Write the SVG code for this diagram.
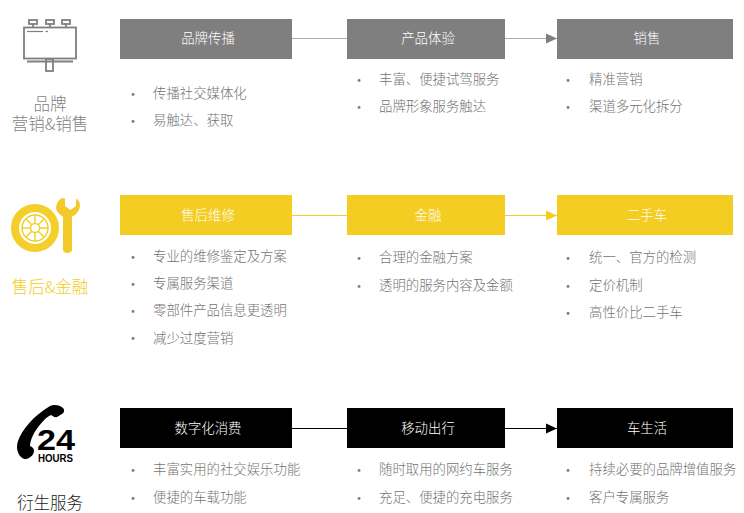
<svg xmlns="http://www.w3.org/2000/svg" width="744" height="513" viewBox="0 0 744 513">
<style>
text{font-family:"Noto Sans CJK SC","Liberation Sans",sans-serif}
.b{font-size:13.400px;text-anchor:middle;fill:#fff;font-weight:300}
.l{font-size:13.400px;fill:#737373;font-weight:300}
.d{font-size:13px;fill:#7a7a7a;text-anchor:middle}
.h{font-size:16.500px;text-anchor:middle;font-weight:300}
.ln{stroke-width:1.200;fill:none}
</style>
<defs>
<marker id="ag" markerUnits="userSpaceOnUse" markerWidth="11" markerHeight="12" refX="11" refY="6" orient="auto"><path d="M0 1L11 6L0 11Z" fill="#7f7f7f"/></marker>
<marker id="ay" markerUnits="userSpaceOnUse" markerWidth="11" markerHeight="12" refX="11" refY="6" orient="auto"><path d="M0 1L11 6L0 11Z" fill="#f4cd22"/></marker>
<marker id="ak" markerUnits="userSpaceOnUse" markerWidth="11" markerHeight="12" refX="11" refY="6" orient="auto"><path d="M0 1L11 6L0 11Z" fill="#000"/></marker>
</defs>
<rect width="744" height="513" fill="#fff"/>
<g id="connectors">
<path class="ln" stroke="#aaa" d="M292 38.500H347"/>
<path class="ln" stroke="#aaa" d="M505 38.500H557" marker-end="url(#ag)"/>
<path class="ln" stroke="#f4cd22" d="M292 215.500H347"/>
<path class="ln" stroke="#f4cd22" d="M505 215.500H557" marker-end="url(#ay)"/>
<path class="ln" stroke="#000" d="M292 428.500H347"/>
<path class="ln" stroke="#000" d="M505 428.500H557" marker-end="url(#ak)"/>
</g>
<g id="icon-billboard" fill="none" stroke="#7f7f7f" stroke-width="1.800">
<rect x="24" y="27.500" width="52" height="31"/>
<path d="M27 61.500H73" stroke-width="2"/>
<rect x="46" y="59" width="7" height="12"/>
<rect x="29" y="20" width="8" height="4"/><path d="M33 24V27"/>
<rect x="46" y="20" width="8" height="4"/><path d="M50 24V27"/>
<rect x="62" y="20" width="8" height="4"/><path d="M66 24V27"/>
<path d="M27 31.500H43" stroke-width="1.200"/><path d="M45.500 31.500H48" stroke-width="1.200"/>
</g>
<g id="label-brand">
<text class="h" x="50" y="110" fill="#7f7f7f">品牌</text>
<text class="h" x="50" y="130" fill="#7f7f7f">营销&amp;销售</text>
</g>
<g id="n1"><rect x="120" y="19" width="172" height="40" fill="#7f7f7f"/><text class="b" x="208" y="43">品牌传播</text></g>
<g id="n2"><rect x="347" y="19" width="158" height="40" fill="#7f7f7f"/><text class="b" x="428" y="43">产品体验</text></g>
<g id="n3"><rect x="557" y="19" width="176" height="40" fill="#7f7f7f"/><text class="b" x="647" y="43">销售</text></g>
<g id="list-1">
<text class="d" x="133" y="99">•</text><text class="l" x="153" y="98">传播社交媒体化</text>
<text class="d" x="133" y="126">•</text><text class="l" x="153" y="125">易触达、获取</text>
</g>
<g id="list-2">
<text class="d" x="359" y="85">•</text><text class="l" x="379" y="84">丰富、便捷试驾服务</text>
<text class="d" x="359" y="112">•</text><text class="l" x="379" y="111">品牌形象服务触达</text>
</g>
<g id="list-3">
<text class="d" x="568" y="85">•</text><text class="l" x="589" y="84">精准营销</text>
<text class="d" x="568" y="112">•</text><text class="l" x="589" y="111">渠道多元化拆分</text>
</g>
<g id="icon-service">
<circle cx="35" cy="228" r="20" fill="none" stroke="#f4cf2a" stroke-width="8"/>
<circle cx="35" cy="228" r="13" fill="none" stroke="#f4cf2a" stroke-width="1.500"/>
<circle cx="35" cy="228" r="4.500" fill="none" stroke="#f4cf2a" stroke-width="1.500"/>
<path d="M35 215V223.500M35 232.500V241M22 228H30.500M39.500 228H48M26 219L32 225M38 231L44 237M44 219L38 225M32 231L26 237" stroke="#f4cf2a" stroke-width="1.500"/>
<path d="M62 198C57 201 55.500 206 56.500 210C57.500 213 60 215 63 216.500V250C63 254 72 254 72 250V216.500C76 215 79.500 211 80 206C80 203 79 200 76 198.500V206L70.500 210L65 206V198.500Z" fill="#f4c92a"/>
</g>
<text class="h" x="50" y="293" fill="#f4cd22" id="label-service">售后&amp;金融</text>
<g id="n4"><rect x="120" y="195" width="172" height="40" fill="#f4cd22"/><text class="b" x="208" y="220">售后维修</text></g>
<g id="n5"><rect x="347" y="195" width="158" height="40" fill="#f4cd22"/><text class="b" x="428" y="220">金融</text></g>
<g id="n6"><rect x="557" y="195" width="176" height="40" fill="#f4cd22"/><text class="b" x="647" y="220">二手车</text></g>
<g id="list-4">
<text class="d" x="133" y="262">•</text><text class="l" x="153" y="261">专业的维修鉴定及方案</text>
<text class="d" x="133" y="289">•</text><text class="l" x="153" y="288">专属服务渠道</text>
<text class="d" x="133" y="316">•</text><text class="l" x="153" y="315">零部件产品信息更透明</text>
<text class="d" x="133" y="343">•</text><text class="l" x="153" y="343">减少过度营销</text>
</g>
<g id="list-5">
<text class="d" x="359" y="263">•</text><text class="l" x="379" y="262">合理的金融方案</text>
<text class="d" x="359" y="291">•</text><text class="l" x="379" y="290">透明的服务内容及金额</text>
</g>
<g id="list-6">
<text class="d" x="568" y="263">•</text><text class="l" x="589" y="262">统一、官方的检测</text>
<text class="d" x="568" y="291">•</text><text class="l" x="589" y="290">定价机制</text>
<text class="d" x="568" y="318">•</text><text class="l" x="589" y="317">高性价比二手车</text>
</g>
<g id="icon-24">
<path d="M50 406C54 404 60 405 63 408C65 410 64 413 62 414L57 417C55 418 53 416 51 415C46 417 41 423 36 430C32 436 30 442 30 446C32 447 34 448 34 451C34 454 32 456 29 458C26 460 23 459 21 457C17 453 16 447 18 441C22 430 33 416 50 406Z" fill="#000"/>
<text x="37" y="450" font-size="30" font-weight="700" fill="#000" style="font-family:'Liberation Sans',sans-serif" textLength="38" lengthAdjust="spacingAndGlyphs">24</text>
<text x="38" y="462" font-size="10.500" font-weight="700" fill="#000" style="font-family:'Liberation Sans',sans-serif" textLength="35" lengthAdjust="spacingAndGlyphs">HOURS</text>
</g>
<text class="h" x="50" y="509" fill="#222" id="label-derived">衍生服务</text>
<g id="n7"><rect x="120" y="408" width="172" height="40" fill="#000"/><text class="b" x="208" y="433">数字化消费</text></g>
<g id="n8"><rect x="347" y="408" width="158" height="40" fill="#000"/><text class="b" x="428" y="433">移动出行</text></g>
<g id="n9"><rect x="557" y="408" width="176" height="40" fill="#000"/><text class="b" x="647" y="433">车生活</text></g>
<g id="list-7">
<text class="d" x="133" y="475">•</text><text class="l" x="153" y="474">丰富实用的社交娱乐功能</text>
<text class="d" x="133" y="503">•</text><text class="l" x="153" y="502">便捷的车载功能</text>
</g>
<g id="list-8">
<text class="d" x="359" y="475">•</text><text class="l" x="379" y="474">随时取用的网约车服务</text>
<text class="d" x="359" y="503">•</text><text class="l" x="379" y="502">充足、便捷的充电服务</text>
</g>
<g id="list-9">
<text class="d" x="568" y="475">•</text><text class="l" x="589" y="474">持续必要的品牌增值服务</text>
<text class="d" x="568" y="503">•</text><text class="l" x="589" y="502">客户专属服务</text>
</g>
</svg>
